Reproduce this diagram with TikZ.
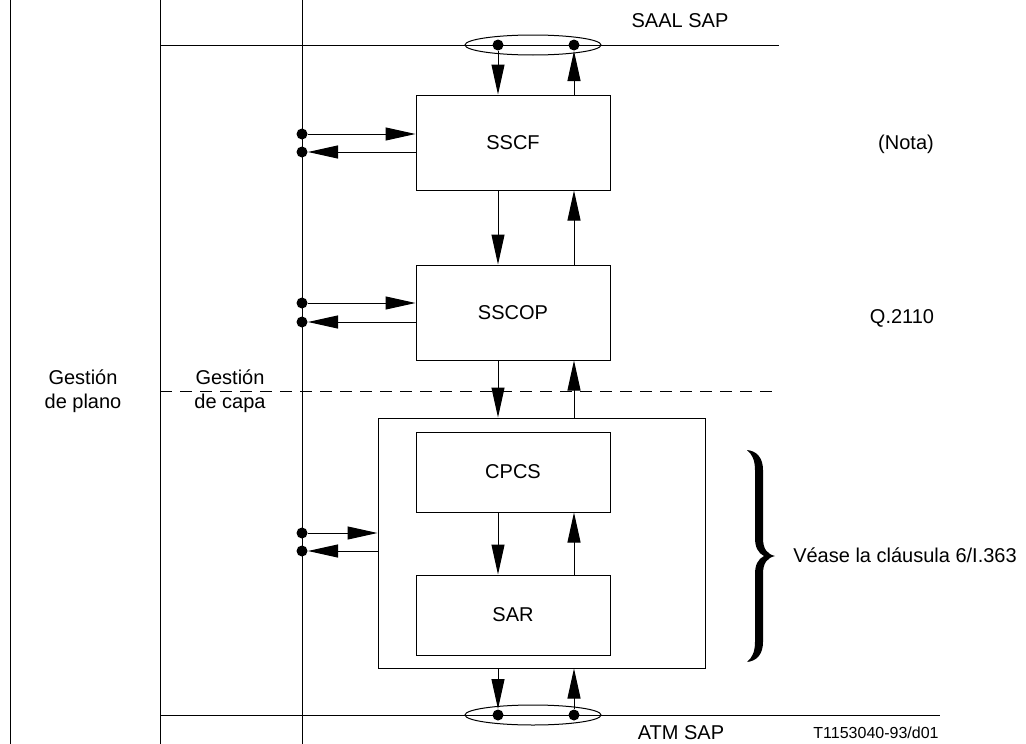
\documentclass[tikz,border=0pt]{standalone}
\usepackage{fontspec}
\setmainfont{Liberation Sans}
\usetikzlibrary{arrows.meta}
\begin{document}
\begin{tikzpicture}[x=1pt, y=-1pt, line width=1pt,
  txt/.style={font=\fontsize{20}{24}\selectfont, align=center, inner sep=0pt},
  blk/.style={draw, txt, minimum width=194pt, minimum height=95pt},
  sig/.style={-{Triangle[length=30pt, width=13pt]}},
  dot/.style={circle, fill, inner sep=0pt, minimum size=11pt}]
\useasboundingbox (0,0) rectangle (1026,744);

\draw (10,0) -- (10,744);
\draw (160,0) -- (160,744);
\draw (302,0) -- (302,744);
\draw (160,45) -- (779,45);
\draw (160,715) -- (940,715);
\draw[dashed, dash pattern=on 12pt off 8pt] (160,391) -- (778,391);

\node[blk] (sscf) at (513,142.5) {SSCF};
\node[blk] (sscop) at (513,312.5) {SSCOP};
\node[draw, minimum width=327pt, minimum height=250pt] (aal) at (541.5,543) {};
\node[blk, minimum height=80pt] (cpcs) at (513,472) {CPCS};
\node[blk, minimum height=80pt] (sar) at (513,615) {SAR};

\draw (533,45) ellipse [x radius=68, y radius=10];
\draw (533,715) ellipse [x radius=68, y radius=10];
\node[dot] (saalin) at (498,45) {};
\node[dot] (saalout) at (574,45) {};
\node[dot] (atmout) at (498,715) {};
\node[dot] (atmin) at (574,715) {};

\draw[sig] (saalin) -- (saalin |- sscf.north);
\draw[sig] (saalout |- sscf.north) -- (saalout);
\draw[sig] (saalin |- sscf.south) -- (saalin |- sscop.north);
\draw[sig] (saalout |- sscop.north) -- (saalout |- sscf.south);
\draw[sig] (saalin |- sscop.south) -- (saalin |- aal.north);
\draw[sig] (saalout |- aal.north) -- (saalout |- sscop.south);
\draw[sig] (saalin |- cpcs.south) -- (saalin |- sar.north);
\draw[sig] (saalout |- sar.north) -- (saalout |- cpcs.south);
\draw[sig] (atmout |- aal.south) -- (atmout);
\draw[sig] (atmin) -- (atmin |- aal.south);

\node[dot] (mgt1) at (302,134) {};
\node[dot] (mgt2) at (302,152) {};
\node[dot] (mgt3) at (302,303) {};
\node[dot] (mgt4) at (302,322) {};
\node[dot] (mgt5) at (302,533) {};
\node[dot] (mgt6) at (302,551) {};
\draw[sig] (mgt1) -- (mgt1 -| sscf.west);
\draw[sig] (mgt2 -| sscf.west) -- (mgt2);
\draw[sig] (mgt3) -- (mgt3 -| sscop.west);
\draw[sig] (mgt4 -| sscop.west) -- (mgt4);
\draw[sig] (mgt5) -- (mgt5 -| aal.west);
\draw[sig] (mgt6 -| aal.west) -- (mgt6);

\fill (747,450) .. controls (757,451) and (763,458) .. (763,470) -- (763,538)
  .. controls (763,549) and (767,554) .. (775,556)
  .. controls (767,558) and (763,563) .. (763,574) -- (763,642)
  .. controls (763,654) and (757,661) .. (747,662)
  .. controls (752,658) and (755,652) .. (755,642) -- (755,574)
  .. controls (755,565) and (758,559) .. (764,556)
  .. controls (758,553) and (755,547) .. (755,538) -- (755,470)
  .. controls (755,460) and (752,454) .. (747,450) -- cycle;

\node[txt] (saalsap) at (680,21) {SAAL SAP};
\node[txt] (atmsap) at (681,733) {ATM SAP};
\node[txt, font=\fontsize{16}{18}\selectfont] (fig) at (876,733) {T1153040-93/d01};
\node[txt] (nota) at (906,144) {(Nota)};
\node[txt] (q2110) at (902,318) {Q.2110};
\node[txt] (plano) at (83,391) {Gestión\\de plano};
\node[txt] (capa) at (230,391) {Gestión\\de capa};
\node[txt] (vease) at (905,555) {Véase la cláusula 6/I.363};
\end{tikzpicture}
\end{document}
